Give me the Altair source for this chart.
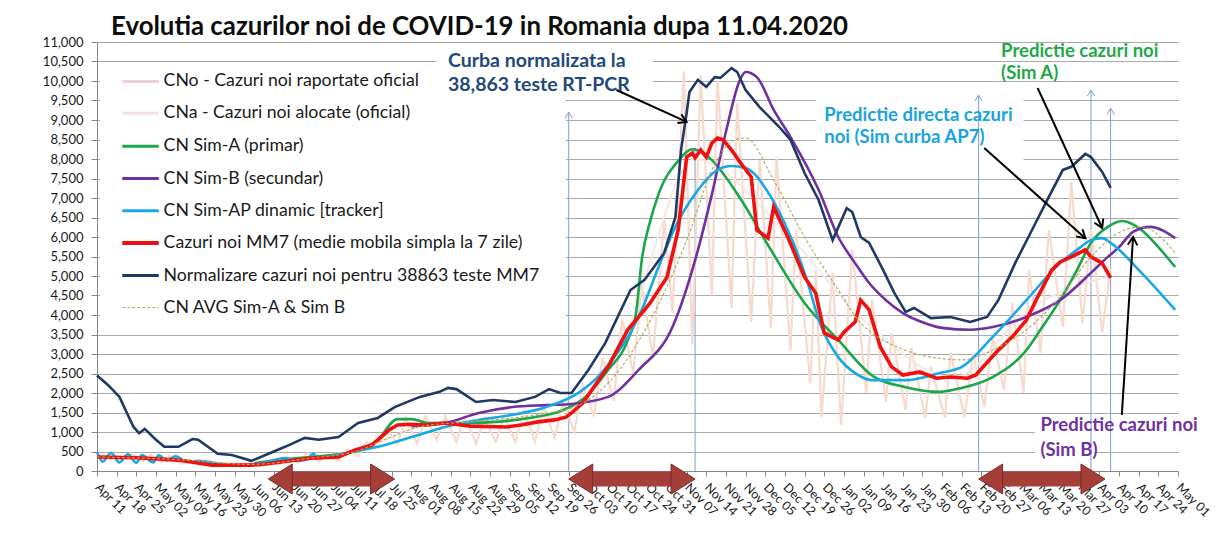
import altair as alt
import pandas as pd

# ---------------- data ----------------
norm_dates = ["2020-04-11","2020-04-15","2020-04-19","2020-04-24","2020-04-26","2020-04-28","2020-05-02","2020-05-05",
              "2020-05-10","2020-05-15","2020-05-17","2020-05-24","2020-05-29","2020-06-05","2020-06-10","2020-06-17",
              "2020-06-24","2020-06-29","2020-07-06","2020-07-13","2020-07-20","2020-07-26","2020-08-04","2020-08-11",
              "2020-08-14","2020-08-17","2020-08-24","2020-08-30","2020-09-07","2020-09-14","2020-09-19","2020-09-23",
              "2020-09-27","2020-10-03","2020-10-09","2020-10-18","2020-10-23","2020-10-30","2020-11-03","2020-11-05",
              "2020-11-07","2020-11-08","2020-11-11","2020-11-14","2020-11-17","2020-11-19","2020-11-23","2020-11-25",
              "2020-11-28","2020-12-03","2020-12-10","2020-12-14","2020-12-19","2020-12-24","2020-12-29","2021-01-03",
              "2021-01-05","2021-01-08","2021-01-11","2021-01-16","2021-01-20","2021-01-24","2021-01-27","2021-02-02",
              "2021-02-09","2021-02-16","2021-02-22","2021-02-26","2021-03-04","2021-03-10","2021-03-16","2021-03-21",
              "2021-03-24","2021-03-29","2021-03-31","2021-04-04","2021-04-07"]
norm_vals = [2450,2200,1900,1130,970,1080,800,620,
             620,820,800,440,410,260,410,620,
             850,800,870,1230,1360,1640,1900,2030,
             2130,2100,1770,1820,1770,1900,2100,2000,
             2000,2590,3280,4640,4900,5590,6510,8230,
             9180,9720,10030,9850,10100,10080,10330,10230,
             9770,9330,8820,8490,7640,6950,5920,6740,
             6640,6000,5850,5150,4560,4080,4180,3920,
             3950,3820,3950,4380,5330,6180,7030,7720,
             7800,8130,8050,7670,7260]

mm7_dates = ["2020-04-11","2020-04-25","2020-05-10","2020-05-22","2020-06-05","2020-06-10","2020-06-26","2020-07-06",
             "2020-07-12","2020-07-18","2020-07-24","2020-07-27","2020-08-01","2020-08-06","2020-08-13","2020-08-22",
             "2020-09-04","2020-09-09","2020-09-15","2020-09-21","2020-09-25","2020-09-27","2020-10-01","2020-10-10",
             "2020-10-17","2020-10-23","2020-10-25","2020-10-31","2020-11-04","2020-11-07","2020-11-09","2020-11-10",
             "2020-11-12","2020-11-14","2020-11-16","2020-11-18","2020-11-20","2020-11-23","2020-11-26","2020-11-30",
             "2020-12-02","2020-12-06","2020-12-08","2020-12-13","2020-12-19","2020-12-23","2020-12-26","2020-12-31",
             "2021-01-02","2021-01-06","2021-01-08","2021-01-11","2021-01-15","2021-01-19","2021-01-23","2021-01-29",
             "2021-02-04","2021-02-09","2021-02-15","2021-02-18","2021-02-26","2021-03-03","2021-03-08","2021-03-12",
             "2021-03-17","2021-03-20","2021-03-24","2021-03-29","2021-03-31","2021-04-04","2021-04-07"]
mm7_vals = [360,340,280,150,150,180,330,360,
            540,670,1050,1180,1200,1180,1230,1150,
            1130,1180,1260,1310,1380,1490,1740,2670,
            3620,4130,4310,4970,6180,8050,8150,8030,
            8230,8050,8410,8540,8490,8230,7920,7540,
            6180,5970,6770,6000,4970,4560,3540,3360,
            3560,3820,4380,4130,3180,2670,2460,2540,
            2380,2410,2380,2460,3100,3440,3870,4460,
            5150,5360,5490,5670,5490,5330,4950]

simA_dates = ["2020-06-06","2020-06-15","2020-06-26","2020-07-09","2020-07-20","2020-07-27","2020-08-01","2020-08-07",
              "2020-08-19","2020-08-31","2020-09-12","2020-09-24","2020-10-02","2020-10-10","2020-10-17","2020-10-20",
              "2020-10-22","2020-10-25","2020-10-28","2020-11-04","2020-11-09","2020-11-13","2020-11-16","2020-11-26",
              "2020-12-07","2020-12-19","2020-12-31","2021-01-12","2021-01-24","2021-02-05","2021-02-13","2021-02-24",
              "2021-03-08","2021-03-13","2021-03-20","2021-03-26","2021-03-31","2021-04-06","2021-04-11","2021-04-18",
              "2021-04-24","2021-04-30"]
simA_vals = [200,280,360,460,800,1330,1330,1230,
             1230,1260,1360,1560,1900,2590,3350,4050,
             5400,6400,7100,7950,8250,8150,7970,7000,
             5670,4310,3360,2450,2150,2030,2130,2410,
             3100,3620,4380,5150,5850,6260,6410,6180,
             5740,5230]

simB_dates = ["2020-08-01","2020-08-13","2020-08-25","2020-09-06","2020-09-18","2020-09-27","2020-10-10","2020-10-21",
              "2020-11-02","2020-11-10","2020-11-16","2020-11-21","2020-11-26","2020-11-28","2020-12-02","2020-12-08",
              "2020-12-14","2020-12-24","2020-12-31","2021-01-06","2021-01-11","2021-01-17","2021-01-23","2021-01-31",
              "2021-02-06","2021-02-16","2021-02-24","2021-03-08","2021-03-20","2021-03-31","2021-04-06","2021-04-10",
              "2021-04-15","2021-04-21","2021-04-30"]
simB_vals = [1150,1230,1490,1640,1690,1720,1900,2600,
             3700,5400,7100,8700,10030,10230,10100,9260,
             8560,7210,6000,5330,4820,4380,4050,3790,
             3670,3620,3690,3950,4380,5080,5490,5740,
             6130,6260,5970]

simAP_dates = ["2020-04-11","2020-04-13","2020-04-16","2020-04-19","2020-04-22","2020-04-25","2020-04-27","2020-05-01",
               "2020-05-03","2020-05-06","2020-05-09","2020-05-13","2020-05-17","2020-05-24","2020-06-01","2020-06-06",
               "2020-06-13","2020-06-17","2020-06-21","2020-06-25","2020-06-27","2020-06-29","2020-07-09","2020-07-20",
               "2020-08-01","2020-08-13","2020-08-25","2020-09-06","2020-09-18","2020-09-30","2020-10-07","2020-10-22",
               "2020-10-28","2020-11-03","2020-11-11","2020-11-18","2020-11-23","2020-11-28","2020-12-07","2020-12-13",
               "2020-12-19","2020-12-25","2020-12-31","2021-01-06","2021-01-12","2021-01-24","2021-02-05","2021-02-13",
               "2021-02-24","2021-03-08","2021-03-20","2021-03-26","2021-03-31","2021-04-04","2021-04-07","2021-04-18",
               "2021-04-30"]
simAP_vals = [490,240,460,220,430,210,410,220,
              400,270,380,230,260,190,150,170,
              280,330,260,300,440,330,460,620,
              870,1130,1310,1440,1640,2030,2460,4130,
              5230,6260,7200,7720,7820,7770,7030,6180,
              5080,3690,2920,2510,2330,2330,2510,2670,
              3440,4380,5330,5670,5920,5970,5850,5080,
              4130]

avg_dates = ["2020-04-11","2020-05-10","2020-06-05","2020-06-26","2020-07-12","2020-07-24","2020-08-05","2020-08-25",
             "2020-09-15","2020-09-30","2020-10-10","2020-10-27","2020-11-08","2020-11-16","2020-11-24","2020-11-28",
             "2020-12-08","2020-12-19","2020-12-31","2021-01-08","2021-01-12","2021-01-21","2021-02-02","2021-02-13",
             "2021-02-24","2021-03-08","2021-03-20","2021-03-31","2021-04-12","2021-04-18","2021-04-30"]
avg_vals = [360,290,170,330,500,850,1150,1280,
            1450,1700,2250,4130,6100,7720,8490,8540,
            7460,6000,4640,3790,3540,3180,2920,2850,
            3100,3620,4460,5490,6180,6260,5590]

cno_dates = ["2020-04-11","2020-04-13","2020-04-16","2020-04-20","2020-04-23","2020-04-27","2020-04-30","2020-05-04",
             "2020-05-07","2020-05-11","2020-05-14","2020-05-18","2020-05-21","2020-05-25","2020-05-28","2020-06-01",
             "2020-06-04","2020-06-08","2020-06-11","2020-06-15","2020-06-18","2020-06-22","2020-06-25","2020-06-29",
             "2020-07-02","2020-07-06","2020-07-09","2020-07-13","2020-07-16","2020-07-20","2020-07-23","2020-07-27",
             "2020-07-30","2020-08-03","2020-08-06","2020-08-10","2020-08-13","2020-08-17","2020-08-20","2020-08-24",
             "2020-08-27","2020-08-31","2020-09-03","2020-09-07","2020-09-10","2020-09-14","2020-09-17","2020-09-21",
             "2020-09-24","2020-09-28","2020-10-01","2020-10-05","2020-10-08","2020-10-12","2020-10-15","2020-10-19",
             "2020-10-22","2020-10-26","2020-10-30","2020-11-02","2020-11-06","2020-11-09","2020-11-12","2020-11-16",
             "2020-11-18","2020-11-23","2020-11-25","2020-11-30","2020-12-03","2020-12-07","2020-12-09","2020-12-14",
             "2020-12-16","2020-12-21","2020-12-23","2020-12-25","2020-12-29","2021-01-01","2021-01-05","2021-01-10",
             "2021-01-12","2021-01-17","2021-01-19","2021-01-24","2021-01-26","2021-01-31","2021-02-02","2021-02-07",
             "2021-02-09","2021-02-14","2021-02-17","2021-02-21","2021-02-24","2021-02-28","2021-03-03","2021-03-07",
             "2021-03-09","2021-03-13","2021-03-16","2021-03-21","2021-03-24","2021-03-28","2021-03-31","2021-04-04",
             "2021-04-07"]
cno_vals = [420,300,480,270,450,250,420,220,
            390,180,300,140,260,120,220,110,
            220,120,250,170,330,220,460,250,
            420,260,550,380,750,600,1100,700,
            1350,700,1400,800,1400,750,1400,700,
            1350,750,1400,750,1550,750,1650,850,
            1750,1000,2200,1400,2900,1800,3900,2500,
            4800,2900,6450,4050,10250,3230,10150,4500,
            10030,4180,9440,3820,7970,3670,8030,3100,
            6180,2260,5150,1380,5080,1180,5670,2000,
            4380,1770,3540,1560,3150,1360,2670,1360,
            3030,1380,3030,1640,3440,2080,4310,2000,
            5150,3030,6180,3690,7410,3790,6180,3560,
            5200]

cna_dates = ["2020-04-11","2020-06-01","2020-07-15","2020-08-10","2020-09-20","2020-10-15","2020-11-10",
             "2020-12-10","2021-01-10","2021-02-10","2021-03-10","2021-04-07"]
cna_vals = [400,200,600,1250,1400,3300,8000,6300,3800,2400,4200,5000]

# annotation tables
legend_names = ["CNo - Cazuri noi raportate oficial", "CNa - Cazuri noi alocate (oficial)", "CN Sim-A (primar)",
                "CN Sim-B (secundar)", "CN Sim-AP dinamic [tracker]",
                "Cazuri noi MM7 (medie mobila simpla la 7 zile)",
                "Normalizare cazuri noi pentru 38863 teste MM7", "CN AVG Sim-A & Sim B"]
legend_rows = [9990, 9170, 8330, 7500, 6670, 5845, 5010, 4190]

note_texts = ["Curba normalizata la", "38,863 teste RT-PCR", "Predictie cazuri noi", "(Sim A)",
              "Predictie directa cazuri", "noi (Sim curba AP7)", "Predictie cazuri noi", "(Sim B)"]
note_dates = ["2020-08-14", "2020-08-14", "2021-02-27", "2021-02-27", "2020-12-26", "2020-12-26",
              "2021-03-13", "2021-03-13"]
note_vals = [10513, 9897, 10777, 10205, 9128, 8572, 1180, 540]
note_sizes = [19.5, 19.5, 18.5, 18.5, 18.5, 18.5, 18.5, 18.5]

box_start = ["2020-04-12", "2020-08-10", "2020-12-23", "2021-03-11", "2021-03-11"]
box_end = ["2020-09-25", "2020-10-26", "2021-03-07", "2021-05-01", "2021-04-01"]
box_low = [3800, 9510, 7850, 950, 330]
box_high = [10330, 10880, 9700, 1380, 720]

vline_dates = ["2020-09-26", "2020-11-10", "2021-02-19", "2021-03-31", "2021-04-07"]
vline_tops = [9200, 8280, 9640, 9770, 9300]

span_start = ["2020-06-11", "2020-09-26", "2021-02-19"]
span_end = ["2020-07-26", "2020-11-10", "2021-04-05"]

arrow_start_dates = ["2020-10-13", "2021-03-12", "2021-02-21", "2021-04-11"]
arrow_start_vals = [9770, 9820, 8280, 1440]
arrow_end_dates = ["2020-11-07", "2021-04-04", "2021-03-29", "2021-04-15"]
arrow_end_vals = [8950, 6230, 5970, 6000]
arrow_angles = [114.5, 155.2, 131.7, 3.6]

TITLE = "Evolutia cazurilor noi de COVID-19 in Romania dupa 11.04.2020"

# ---------------- styling ----------------
FONT = "Lato"
C_CNO, C_CNA = "#f6dacd", "#f4e7e4"
C_A, C_B, C_AP = "#1aa64a", "#7030a0", "#17a9e6"
C_MM7, C_NORM, C_AVG = "#f01010", "#1f3864", "#a9ad5a"
GRID = "#a9a9a9"
legend_colors = ["#ecd0d4", "#f3e3e0", C_A, C_B, C_AP, C_MM7, C_NORM, C_AVG]
legend_widths = [3, 3, 3, 3, 3, 4, 3, 1]
note_colors = ["#22497a", "#22497a", "#1fa84a", "#1fa84a", "#1aa3de", "#1aa3de", "#7030a0", "#7030a0"]


def ms(s):
    return int(pd.Timestamp(s, tz="UTC").value // 10**6)


X_START, X_END = "2020-04-11", "2021-05-01"
tick_vals = [ms(d) for d in pd.date_range(X_START, X_END, freq="7D")]
xs = alt.Scale(type="utc", domain=[ms(X_START), ms(X_END)])
ys = alt.Scale(domain=[0, 11000], nice=False, zero=False)

x_axis = alt.Axis(values=tick_vals, labelExpr="utcFormat(datum.value, '%b %d')", labelAngle=45,
                  labelAlign="left", labelBaseline="middle", labelOverlap=False, grid=False, title=None,
                  labelFont=FONT, labelFontSize=12.5, labelColor="#1a1a1a", tickColor="#868686",
                  domainColor="#868686", tickSize=5, labelPadding=9, labelFlush=False)
y_axis = alt.Axis(values=list(range(0, 11001, 500)), labelExpr="format(datum.value, ',')", grid=True,
                  gridColor=GRID, gridOpacity=1, gridWidth=1.2, title=None, labelFont=FONT, labelFontSize=13,
                  labelColor="#1a1a1a", tickColor="#868686", domainColor="#868686", tickSize=6,
                  labelPadding=8, labelFlush=False)


def X(f):
    return alt.X(f"{f}:T", scale=xs, axis=x_axis)


def Y(f):
    return alt.Y(f"{f}:Q", scale=ys, axis=y_axis)


# white boxes behind text
boxes = pd.DataFrame({"x0": box_start, "x1": box_end, "y0": box_low, "y1": box_high})
box_layer = alt.Chart(boxes).mark_rect(color="white").encode(x=X("x0"), x2="x1", y=Y("y0"), y2="y1")

# thin steel-blue vertical arrows (rising from the zero line)
vl = pd.DataFrame({"d": vline_dates, "top": vline_tops, "base": [0] * len(vline_dates)})
STEEL = "#7f9dd2"
vline_layer = alt.Chart(vl).mark_rule(color=STEEL, strokeWidth=1).encode(x=X("d"), y=Y("top"), y2="base")
vhead_layer = alt.Chart(vl).mark_point(shape="M-0.6,1L0,0L0.6,1", filled=False, size=150, color=STEEL,
                                       strokeWidth=1, opacity=1).encode(x=X("d"), y=Y("top"))


def line(dates, vals, color, width, interp="linear", dash=None):
    df = pd.DataFrame({"date": dates, "value": vals})
    kw = dict(color=color, strokeWidth=width, interpolate=interp)
    if dash:
        kw["strokeDash"] = dash
    return alt.Chart(df).mark_line(**kw).encode(x=X("date"), y=Y("value"))


series_layers = [
    line(cno_dates, cno_vals, C_CNO, 2.2),
    line(cna_dates, cna_vals, C_CNA, 2, "monotone"),
    line(simA_dates, simA_vals, C_A, 2.6, "monotone"),
    line(simB_dates, simB_vals, C_B, 2.6, "monotone"),
    line(simAP_dates, simAP_vals, C_AP, 2.6, "monotone"),
    line(mm7_dates, mm7_vals, C_MM7, 3.6),
    line(norm_dates, norm_vals, C_NORM, 2.6),
    line(avg_dates, avg_vals, C_AVG, 1.1, "monotone", [3, 2]),
]

# big red double arrows on the time axis
spans = pd.DataFrame({"s": span_start, "e": span_end, "base": [0] * len(span_start)})
DRED, DRED_EDGE = "#a63f3a", "#7a2a26"
span_body = alt.Chart(spans).mark_rule(color=DRED, strokeWidth=15, xOffset=22, x2Offset=-22, yOffset=8,
                                       y2Offset=8).encode(x=X("s"), x2="e", y=Y("base"))
span_left = alt.Chart(spans).mark_point(shape="M0.8,-1L-0.8,0L0.8,1Z", filled=True, size=900, fill=DRED,
                                        stroke=DRED_EDGE, strokeWidth=1, opacity=1, xOffset=12,
                                        yOffset=8).encode(x=X("s"), y=Y("base"))
span_right = alt.Chart(spans).mark_point(shape="M-0.8,-1L0.8,0L-0.8,1Z", filled=True, size=900, fill=DRED,
                                         stroke=DRED_EDGE, strokeWidth=1, opacity=1, xOffset=-12,
                                         yOffset=8).encode(x=X("e"), y=Y("base"))

# black annotation arrows
arr = pd.DataFrame({"sd": arrow_start_dates, "sv": arrow_start_vals, "ed": arrow_end_dates,
                    "ev": arrow_end_vals, "ang": arrow_angles})
arrow_line = alt.Chart(arr).mark_rule(color="black", strokeWidth=2).encode(
    x=X("sd"), x2="ed", y=Y("sv"), y2="ev")
arrow_head = alt.Chart(arr).mark_point(shape="M-0.6,1L0,0L0.6,1", filled=False, size=260, color="black",
                                       strokeWidth=2, opacity=1).encode(
    x=X("ed"), y=Y("ev"), angle=alt.Angle("ang:Q", scale=None))

# custom legend
leg = pd.DataFrame({"name": legend_names, "row": legend_rows, "c": legend_colors, "w": legend_widths,
                    "a": ["2020-04-20"] * 8, "b": ["2020-05-03"] * 8, "t": ["2020-05-04"] * 8})
leg_solid = alt.Chart(leg.iloc[:7]).mark_rule().encode(
    x=X("a"), x2="b", y=Y("row"), color=alt.Color("c:N", scale=None),
    strokeWidth=alt.StrokeWidth("w:Q", scale=None))
leg_dash = alt.Chart(leg.iloc[7:]).mark_rule(strokeDash=[3, 2]).encode(
    x=X("a"), x2="b", y=Y("row"), color=alt.Color("c:N", scale=None),
    strokeWidth=alt.StrokeWidth("w:Q", scale=None))
leg_text = alt.Chart(leg).mark_text(align="left", baseline="middle", font=FONT, fontSize=17.7, dx=2,
                                    color="#1a1a1a").encode(x=X("t"), y=Y("row"), text="name:N")

notes = pd.DataFrame({"txt": note_texts, "d": note_dates, "v": note_vals, "c": note_colors, "s": note_sizes})
note_layer = alt.Chart(notes).mark_text(align="left", baseline="middle", font=FONT,
                                        fontWeight="bold").encode(
    x=X("d"), y=Y("v"), text="txt:N", color=alt.Color("c:N", scale=None),
    size=alt.Size("s:Q", scale=None))

# chart title, placed just above the plot's top edge
title_df = pd.DataFrame({"txt": [TITLE], "d": ["2020-04-16"], "v": [11000]})
title_layer = alt.Chart(title_df).mark_text(align="left", baseline="alphabetic", font=FONT, fontSize=25.8,
                                            fontWeight="bold", color="#0d0d0d", dy=-7).encode(
    x=X("d"), y=Y("v"), text="txt:N")

chart = alt.layer(
    box_layer, vline_layer, vhead_layer, *series_layers, span_body, span_left, span_right,
    arrow_line, arrow_head, leg_solid, leg_dash, leg_text, note_layer, title_layer
).properties(
    width=1081, height=429,
    autosize=alt.AutoSizeParams(type="none"),
    padding={"left": 89, "top": 34, "right": 40, "bottom": 60},
    background="white",
).configure_view(stroke=None).configure_axis(gridColor=GRID, gridOpacity=1, labelFont=FONT)

chart.save("out.html", embed_options={"renderer": "svg", "actions": False})
